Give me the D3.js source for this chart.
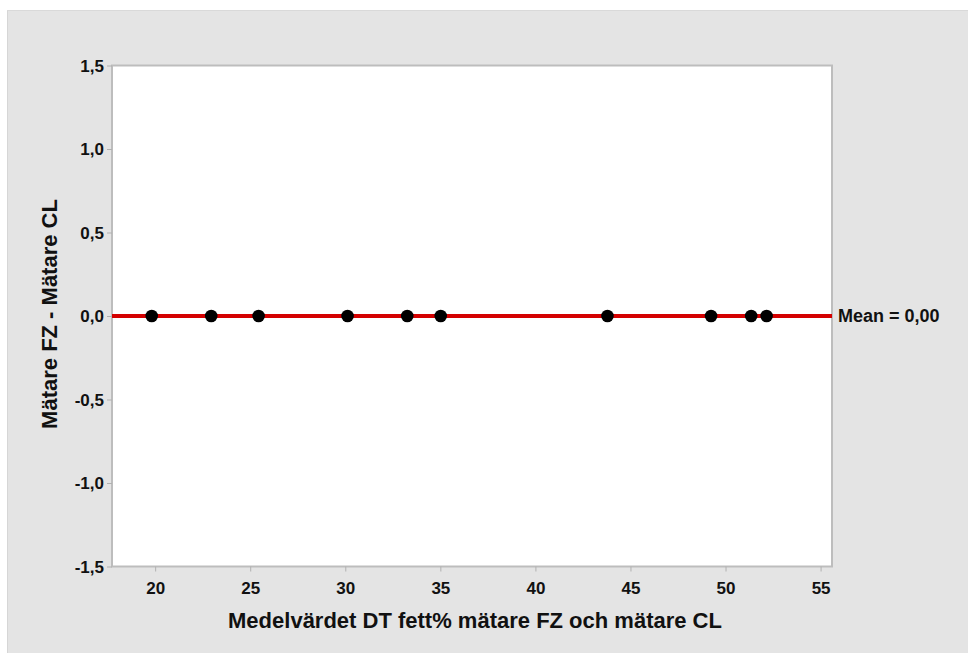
<!DOCTYPE html>
<html><head><meta charset="utf-8">
<script src="https://cdn.jsdelivr.net/npm/d3@7"></script>
<style>body{margin:0;background:#fff}svg{display:block}text{font-family:"Liberation Sans",Arial,sans-serif;font-weight:bold;fill:#111}</style>
</head><body>
<svg id="c" width="968" height="653"></svg>
<script>
const meanX = [19.82, 22.95, 25.44, 30.12, 33.26, 35.02, 43.79, 49.24, 51.35, 52.16];
const diffY = [0, 0, 0, 0, 0, 0, 0, 0, 0, 0];
const meanValue = 0.00;
const xTicks = [20, 25, 30, 35, 40, 45, 50, 55];
const yTicks = [1.5, 1.0, 0.5, 0.0, -0.5, -1.0, -1.5];
const xTitle = "Medelvärdet DT fett% mätare FZ och mätare CL";
const yTitle = "Mätare FZ - Mätare CL";
const meanLabel = "Mean = 0,00";

const svg = d3.select("#c");
svg.append("rect").attr("x",7).attr("y",10).attr("width",961).attr("height",643).attr("fill","#e4e4e4");
svg.append("line").attr("x1",7.5).attr("x2",7.5).attr("y1",10).attr("y2",653).attr("stroke","#d6d6d6").attr("stroke-width",1);
svg.append("line").attr("x1",7).attr("x2",968).attr("y1",10.5).attr("y2",10.5).attr("stroke","#d9d9d9").attr("stroke-width",1);

const L=112, R=832, T=65.5, B=566.5;
const x = d3.scaleLinear().domain([17.73, 55.6]).range([L, R]);
const y = d3.scaleLinear().domain([-1.5, 1.5]).range([B, T]);

svg.append("rect").attr("x",L).attr("y",T).attr("width",R-L).attr("height",B-T)
  .attr("fill","#fff").attr("stroke","#bdbdbd").attr("stroke-width",2);

const comma = d => d3.format(".1f")(d).replace(".", ",").replace("−","-");

const gx = svg.append("g").attr("transform",`translate(0,${B})`)
  .call(d3.axisBottom(x).tickValues(xTicks).tickSize(5).tickPadding(10).tickFormat(d3.format("d")));
const gy = svg.append("g").attr("transform",`translate(${L},0)`)
  .call(d3.axisLeft(y).tickValues(yTicks).tickSize(5).tickPadding(3).tickFormat(comma));
[gx, gy].forEach(g => {
  g.attr("font-size", null).attr("font-family", null);
  g.select(".domain").remove();
  g.selectAll(".tick line").attr("stroke","#b0b0b0").attr("stroke-width",1);
  g.selectAll(".tick text").style("font-size","17px").style("font-family",'"Liberation Sans",Arial,sans-serif').style("font-weight","bold").attr("fill","#111");
});
gy.selectAll(".tick text").attr("dy","0.35em");

svg.append("line").attr("x1",L).attr("x2",R).attr("y1",y(meanValue)).attr("y2",y(meanValue))
  .attr("stroke","#d40000").attr("stroke-width",4);

svg.append("g").selectAll("circle").data(meanX).join("circle")
  .attr("cx", d => x(d)).attr("cy", (d,i) => y(diffY[i])).attr("r", 6.3).attr("fill","#000");

svg.append("text").attr("x", R+6).attr("y", y(meanValue)).attr("dy","0.35em")
  .style("font-size","18px").text(meanLabel);

svg.append("text").attr("x", 475).attr("y", 628).attr("text-anchor","middle")
  .style("font-size","22px").text(xTitle);
svg.append("text").attr("transform","translate(57,314) rotate(-90)").attr("text-anchor","middle")
  .style("font-size","22px").text(yTitle);
</script>
</body></html>
